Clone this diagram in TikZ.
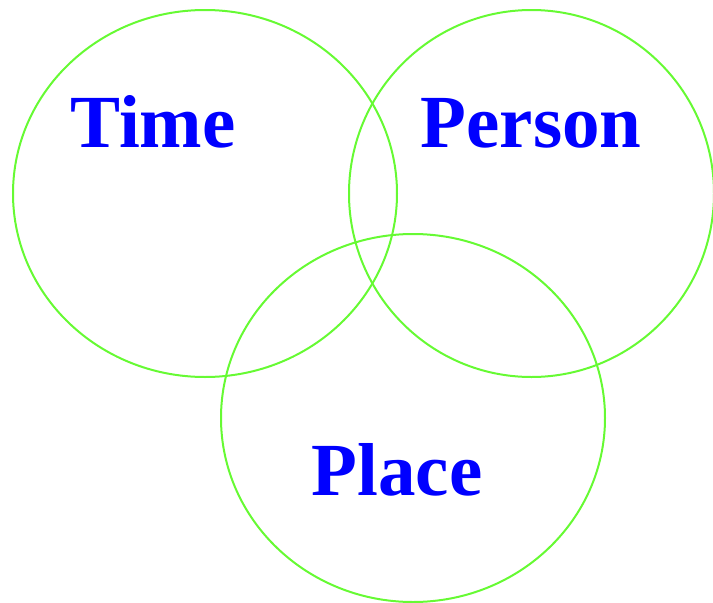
\documentclass[tikz,border=0pt]{standalone}
\usepackage{fontspec}
\setmainfont{Liberation Serif}
\definecolor{ringgreen}{RGB}{102,250,51}
\definecolor{labelblue}{RGB}{0,0,255}
\begin{document}
\begin{tikzpicture}[x=1pt,y=-1pt,
  ring/.style={draw=ringgreen,line width=2pt},
  lbl/.style={text=labelblue,font=\fontsize{75}{82}\selectfont\bfseries,inner sep=0pt,anchor=base}]
\useasboundingbox (0,0) rectangle (713,603);
\draw[ring] (205,193.5) ellipse [x radius=192, y radius=183.5];
\draw[ring] (531.5,193.5) ellipse [x radius=182.5, y radius=183.5];
\draw[ring] (413,418) ellipse [x radius=192, y radius=184];
\node[lbl] (time) at (153,147) {Time};
\node[lbl] (person) at (531,147) {Person};
\node[lbl] (place) at (397,495) {Place};
\end{tikzpicture}
\end{document}
